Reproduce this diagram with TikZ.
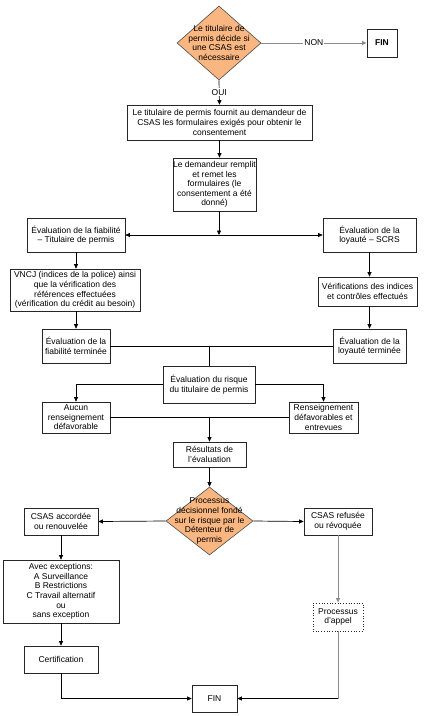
\documentclass[tikz,border=0pt]{standalone}
\usepackage{fontspec}
\setmainfont{Liberation Sans}
\usetikzlibrary{shapes.geometric,arrows.meta}
\definecolor{decorange}{RGB}{249,182,128}

\begin{document}
\begin{tikzpicture}[x=1pt, y=-1pt,
    >={Triangle[length=4.5pt,width=4pt]},
    every node/.style={font=\fontsize{8.5}{9.6}\selectfont, align=center},
    box/.style={draw=black!85, line width=0.7pt, fill=white, inner sep=0pt},
    decision/.style={diamond, draw=black!70, fill=decorange, line width=0.6pt, inner sep=0pt},
    flow/.style={line width=0.7pt, black},
    greyflow/.style={line width=0.9pt, black!45}]
    \useasboundingbox (0, 0) rectangle (424, 716);

    % ---------------------------------------------
    % first decision
    \node[decision, minimum width=84pt, minimum height=74pt] (dec1) at (219, 43) {};
    \node at (dec1) {Le titulaire de\\permis décide si\\une CSAS est\\nécessaire};
    \node[box, line width=1pt, minimum width=30pt, minimum height=28pt,
          font=\fontsize{8.5}{9.6}\selectfont\bfseries] (fin1) at (382, 43) {FIN};
    \draw[->, greyflow] (dec1.east) -- node[fill=white, inner sep=1pt, text=black] {NON} (fin1.west);

    \node[box, minimum width=185pt, minimum height=35pt] (forms) at (219.5, 122.5)
        {Le titulaire de permis fournit au demandeur de\\CSAS les formulaires exigés pour obtenir le\\consentement};
    \draw[->, flow] (dec1.south) -- node[fill=white, inner sep=1pt] {OUI} (forms.north);

    \node[box, minimum width=83pt, minimum height=53pt] (remplit) at (214.5, 184.5)
        {Le demandeur remplit\\et remet les\\formulaires (le\\consentement a été\\donné)};
    \draw[->, flow] (forms.south) -- (forms.south |- remplit.north);

    % ---------------------------------------------
    % two evaluations
    \node[box, minimum width=98pt, minimum height=34pt] (fiab) at (76, 235)
        {Évaluation de la fiabilité\\– Titulaire de permis};
    \node[box, minimum width=93pt, minimum height=34pt] (loy) at (369.5, 235)
        {Évaluation de la\\loyauté – SCRS};
    \coordinate (splitA) at (219, 235);
    \draw[->, flow] (splitA |- remplit.south) -- (splitA);
    \draw[<->, flow] (fiab.east) -- (loy.west);

    \node[box, minimum width=130pt, minimum height=42pt] (vncj) at (75, 290)
        {VNCJ (indices de la police) ainsi\\que la vérification des\\références effectuées\\(vérification du crédit au besoin)};
    \node[box, minimum width=99pt, minimum height=29pt] (verif) at (367.5, 291.5)
        {Vérifications des indices\\et contrôles effectués};
    \draw[->, flow] (fiab.south) -- (fiab.south |- vncj.north);
    \draw[->, flow] (loy.south) -- (loy.south |- verif.north);

    \node[box, minimum width=68pt, minimum height=34pt] (fiabdone) at (76, 346)
        {Évaluation de la\\fiabilité terminée};
    \node[box, minimum width=73pt, minimum height=34pt] (loydone) at (369.5, 346)
        {Évaluation de la\\loyauté terminée};
    \draw[->, flow] (fiab.south |- vncj.south) -- (fiab.south |- fiabdone.north);
    \draw[->, flow] (loy.south |- verif.south) -- (loy.south |- loydone.north);

    % ---------------------------------------------
    % risk evaluation
    \node[box, minimum width=92pt, minimum height=37pt] (risque) at (209, 384.5)
        {Évaluation du risque\\du titulaire de permis};
    \coordinate (joinB) at (209, 346);
    \draw[flow] (fiabdone.east) -- (loydone.west);
    \draw[flow] (joinB) -- (risque.north);

    \node[box, minimum width=68pt, minimum height=31pt] (aucun) at (76, 417.5)
        {Aucun\\renseignement\\défavorable};
    \node[box, minimum width=69pt, minimum height=31pt] (renseig) at (323.5, 417.5)
        {Renseignement\\défavorables et\\entrevues};
    \draw[->, flow] (risque.west) -| (aucun.north);
    \draw[->, flow] (risque.east) -| (renseig.north);

    \node[box, minimum width=73pt, minimum height=25pt] (result) at (209.5, 454.5)
        {Résultats de\\l’évaluation};
    \coordinate (joinC) at (209.5, 417.5);
    \draw[flow] (aucun.east) -- (renseig.west);
    \draw[->, flow] (joinC) -- (result.north);

    % ---------------------------------------------
    % second decision
    \node[decision, minimum width=87pt, minimum height=68pt] (dec2) at (209.5, 521) {};
    \node at (dec2) {Processus\\décisionnel fondé\\sur le risque par le\\Détenteur de\\permis};
    \draw[->, flow] (result.south) -- (dec2.north);

    \node[box, minimum width=74pt, minimum height=27pt] (accord) at (61, 521.5)
        {CSAS accordée\\ou renouvelée};
    \node[box, minimum width=68pt, minimum height=27pt] (refus) at (338, 521.5)
        {CSAS refusée\\ou révoquée};
    \draw[->, flow] (dec2.west) -- (accord.east);
    \draw[->, flow] (dec2.east) -- (refus.west);

    % granted branch
    \node[box, minimum width=116pt, minimum height=63pt] (except) at (61, 591.5)
        {Avec exceptions:\\A Surveillance\\B Restrictions\\C Travail alternatif\\ou\\sans exception};
    \node[box, minimum width=74pt, minimum height=27pt] (cert) at (61, 659.5) {Certification};
    \draw[->, flow] (accord.south) -- (except.north);
    \draw[->, flow] (except.south) -- (cert.north);

    % refused branch
    \node[box, dotted, line width=0.9pt, minimum width=50pt, minimum height=28pt] (appel) at (338, 617)
        {Processus\\d’appel};
    \draw[->, greyflow] (refus.south) -- (appel.north);

    \node[box, minimum width=45pt, minimum height=27pt] (fin2) at (214.5, 698.5) {FIN};
    \coordinate (turnD) at (appel.south |- fin2.east);
    \draw[->, flow] (cert.south) |- (fin2.west);
    \draw[greyflow] (appel.south) -- (turnD);
    \draw[->, flow] (turnD) -- (fin2.east);

  \end{tikzpicture}
\end{document}
